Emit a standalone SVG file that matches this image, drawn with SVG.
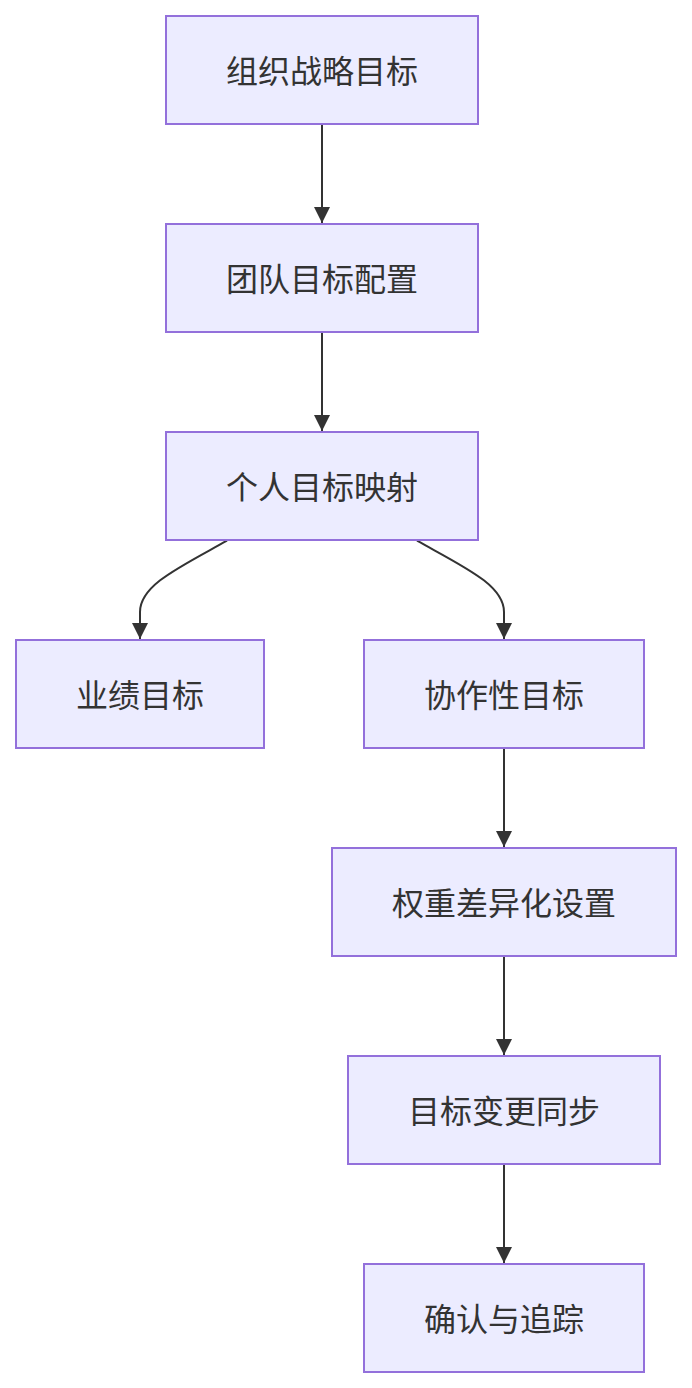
<svg xmlns="http://www.w3.org/2000/svg" width="692" height="1388" viewBox="0 0 692 1388">
<style>
.node rect{fill:#ECECFF;stroke:#9370DB;stroke-width:2}
.node text{font-family:"Noto Sans CJK SC","Noto Sans",sans-serif;font-size:32px;fill:#333333;text-anchor:middle;dominant-baseline:central}
.edge{fill:none;stroke:#333333;stroke-width:2}
</style>
<defs>
<marker id="arrow" markerUnits="userSpaceOnUse" markerWidth="16" markerHeight="16" refX="16" refY="8" orient="auto" viewBox="0 0 16 16">
<path d="M0,0 L16,8 L0,16 z" fill="#333333"/>
</marker>
</defs>
<rect width="692" height="1388" fill="#ffffff"/>
<g id="connectors">
<path class="edge" d="M322,124 L322,223" marker-end="url(#arrow)"/>
<path class="edge" d="M322,332 L322,431" marker-end="url(#arrow)"/>
<path class="edge" d="M227,540.7 C180,567 140,585 140,612 L140,639" marker-end="url(#arrow)"/>
<path class="edge" d="M417,540.7 C464,567 504,585 504,612 L504,639" marker-end="url(#arrow)"/>
<path class="edge" d="M504,748 L504,847" marker-end="url(#arrow)"/>
<path class="edge" d="M504,956 L504,1055" marker-end="url(#arrow)"/>
<path class="edge" d="M504,1164 L504,1263" marker-end="url(#arrow)"/>
</g>
<g id="n1" class="node"><rect x="166" y="16" width="312" height="108"/><text x="322" y="69">组织战略目标</text></g>
<g id="n2" class="node"><rect x="166" y="224" width="312" height="108"/><text x="322" y="277">团队目标配置</text></g>
<g id="n3" class="node"><rect x="166" y="432" width="312" height="108"/><text x="322" y="485">个人目标映射</text></g>
<g id="n4" class="node"><rect x="16" y="640" width="248" height="108"/><text x="140" y="693">业绩目标</text></g>
<g id="n5" class="node"><rect x="364" y="640" width="280" height="108"/><text x="504" y="693">协作性目标</text></g>
<g id="n6" class="node"><rect x="332" y="848" width="344" height="108"/><text x="504" y="901">权重差异化设置</text></g>
<g id="n7" class="node"><rect x="348" y="1056" width="312" height="108"/><text x="504" y="1109">目标变更同步</text></g>
<g id="n8" class="node"><rect x="364" y="1264" width="280" height="108"/><text x="504" y="1317">确认与追踪</text></g>
</svg>
